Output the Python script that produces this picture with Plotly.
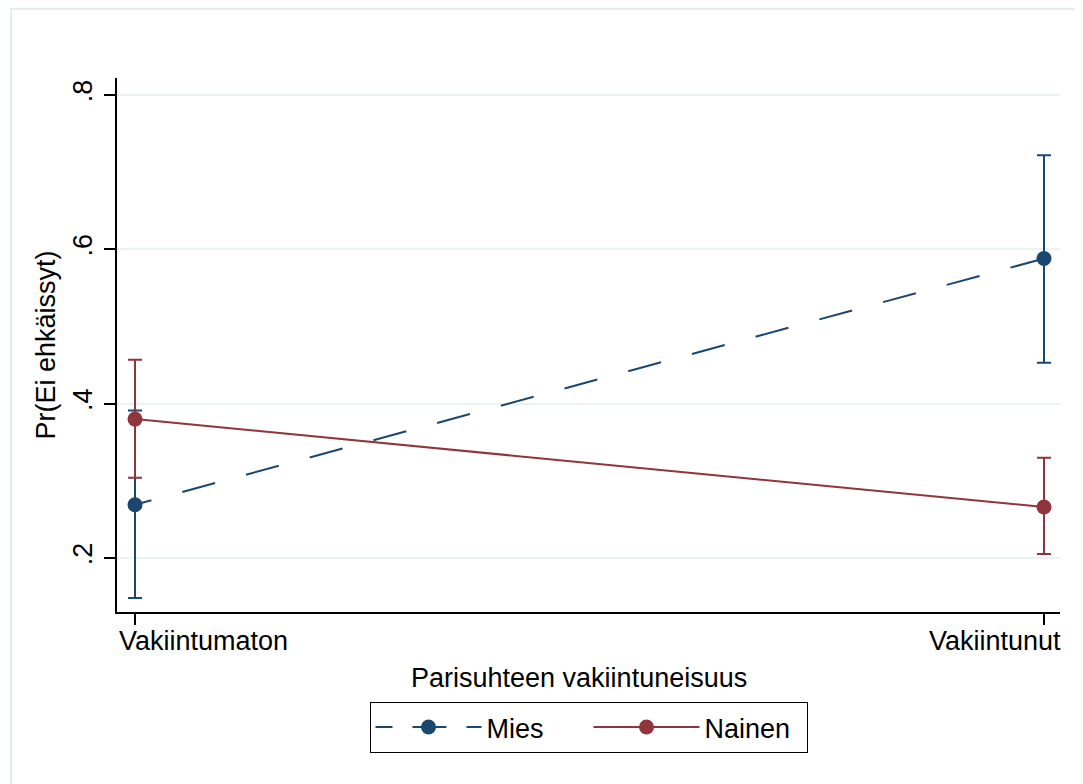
import plotly.graph_objects as go

categories = ["Vakiintumaton", "Vakiintunut"]
mies_est = [0.269, 0.588]
mies_lo = [0.148, 0.453]
mies_hi = [0.391, 0.722]
nainen_est = [0.380, 0.266]
nainen_lo = [0.304, 0.205]
nainen_hi = [0.457, 0.330]
y_ticks = [0.2, 0.4, 0.6, 0.8]
y_ticklabels = [".2", ".4", ".6", ".8"]
x_title = "Parisuhteen vakiintuneisuus"
y_title = "Pr(Ei ehkäissyt)"

BLUE = "#1a476f"
RED = "#90353b"
FONT = "Liberation Sans, Arial, Helvetica, sans-serif"
FS = 27

xs = list(range(len(categories)))
dash_pattern = "17px," + ",".join(["32px,34px"] * 16)
legend_dash = "17px,20px,34px,20px,17px"

fig = go.Figure()
fig.add_trace(go.Scatter(
    x=xs, y=mies_est, name="Mies", mode="lines+markers",
    legendgroup="mies", showlegend=False,
    line=dict(color=BLUE, width=2, dash=dash_pattern),
    marker=dict(color=BLUE, size=15),
    error_y=dict(type="data", symmetric=False,
                 array=[h - e for h, e in zip(mies_hi, mies_est)],
                 arrayminus=[e - l for e, l in zip(mies_est, mies_lo)],
                 color=BLUE, thickness=2, width=7),
))
# legend key for Mies (Stata draws the key with a compressed dash pattern)
fig.add_trace(go.Scatter(
    x=[None], y=[None], name="Mies", mode="lines+markers",
    legendgroup="mies", showlegend=True,
    line=dict(color=BLUE, width=2, dash=legend_dash),
    marker=dict(color=BLUE, size=15),
))
fig.add_trace(go.Scatter(
    x=xs, y=nainen_est, name="Nainen", mode="lines+markers",
    line=dict(color=RED, width=2),
    marker=dict(color=RED, size=15),
    error_y=dict(type="data", symmetric=False,
                 array=[h - e for h, e in zip(nainen_hi, nainen_est)],
                 arrayminus=[e - l for e, l in zip(nainen_est, nainen_lo)],
                 color=RED, thickness=2, width=7),
))

annotations = [
    dict(text=categories[0], xref="paper", yref="paper", x=0, y=0,
         xanchor="left", yanchor="top", yshift=-12, showarrow=False,
         font=dict(size=FS)),
    dict(text=categories[1], xref="paper", yref="paper", x=1, y=0,
         xanchor="right", yanchor="top", xshift=3, yshift=-12, showarrow=False,
         font=dict(size=FS)),
    dict(text=x_title, xref="paper", yref="paper", x=0.4894, y=-0.1236,
         xanchor="center", yanchor="middle", showarrow=False,
         font=dict(size=FS)),
]

fig.update_layout(
    width=1075, height=776,
    margin=dict(l=109, r=23, t=70, b=172),
    paper_bgcolor="white", plot_bgcolor="white",
    font=dict(family=FONT, size=FS, color="black"),
    showlegend=True,
    legend=dict(orientation="h", x=0.5, xanchor="center", y=-0.1685, yanchor="top",
                bordercolor="black", borderwidth=1, bgcolor="white",
                font=dict(size=FS), itemwidth=106, entrywidth=97,
                entrywidthmode="pixels", traceorder="normal",
                itemclick=False, itemdoubleclick=False),
    annotations=annotations,
    shapes=[dict(type="rect", xref="paper", yref="paper",
                 x0=-0.1124, x1=1.1, y0=-0.4, y1=1.1292,
                 line=dict(color="#e4ecec", width=2), layer="below")],
)
fig.update_xaxes(
    range=[-0.0198, 1.0176], tickvals=xs, ticktext=categories,
    showticklabels=False,
    showline=True, linecolor="black", linewidth=2, mirror=False,
    ticks="outside", ticklen=11, tickwidth=2, tickcolor="black",
    showgrid=False, zeroline=False,
)
fig.update_yaxes(
    range=[0.130, 0.822], tickvals=y_ticks, ticktext=y_ticklabels,
    tickangle=-90, tickfont=dict(size=FS), ticklabelstandoff=1,
    showline=True, linecolor="black", linewidth=2,
    ticks="outside", ticklen=11, tickwidth=2, tickcolor="black",
    showgrid=True, gridcolor="#eaf2f3", gridwidth=2, zeroline=False,
    title=dict(text=y_title, standoff=5, font=dict(size=FS)),
)

fig.write_html("out.html")
